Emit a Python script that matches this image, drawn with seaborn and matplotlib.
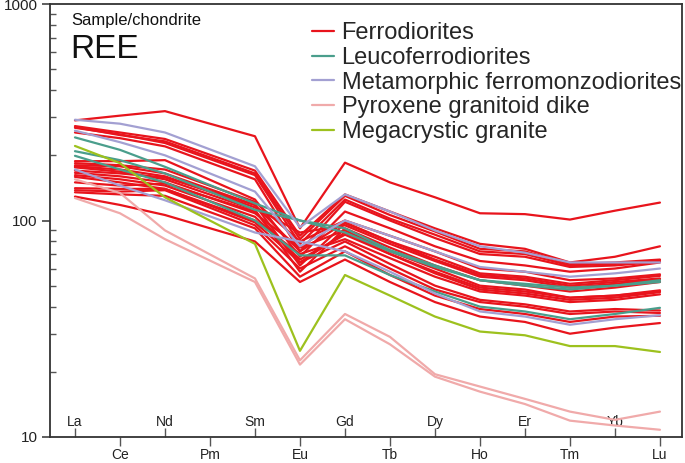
import pandas as pd
import matplotlib
matplotlib.use("Agg")
import matplotlib.pyplot as plt
import seaborn as sns
from matplotlib.ticker import FixedLocator, LogLocator, NullFormatter

# x axis order on the diagram (Pm has no analyses, lines jump over it)
axis_elements = ['La', 'Ce', 'Nd', 'Pm', 'Sm', 'Eu', 'Gd', 'Tb', 'Dy', 'Ho', 'Er', 'Tm', 'Yb', 'Lu']
data_elements = ['La', 'Ce', 'Nd', 'Sm', 'Eu', 'Gd', 'Tb', 'Dy', 'Ho', 'Er', 'Tm', 'Yb', 'Lu']

# chondrite-normalised values
ferrodiorites = [
    [290, 305, 320, 245, 92, 185, 150, 128, 108, 107, 101, 111, 121],
    [273, 255, 238, 170, 85, 132, 110, 92, 78, 74, 64, 68, 76],
    [270, 248, 232, 165, 82, 130, 106, 89, 74, 72, 63, 64, 66],
    [268, 250, 228, 162, 78, 125, 102, 86, 72, 70, 62, 63, 65.6],
    [255, 240, 220, 155, 72, 122, 100, 83, 70, 68, 61, 62, 64.5],
    [188, 188, 190, 125, 68, 110, 92, 76, 65, 62, 58, 60, 64],
    [184, 180, 172, 122, 80, 100, 85, 72, 60, 58, 53, 54, 56.4],
    [180, 178, 165, 118, 62, 97, 80, 68, 57, 55, 51, 53, 55.5],
    [178, 172, 160, 115, 88, 95, 78, 65, 55, 53, 49, 51, 53.5],
    [176, 168, 155, 112, 58, 92, 75, 62, 53, 50, 47, 49, 52],
    [170, 165, 158, 118, 72, 98, 80, 66, 56, 54, 50, 52, 54],
    [166, 160, 150, 108, 75, 90, 72, 60, 50, 48, 44, 45, 47.6],
    [162, 155, 145, 104, 66, 86, 70, 57, 48, 46, 43, 44, 46.7],
    [159, 150, 140, 100, 70, 82, 67, 55, 47, 45, 42, 43, 45.6],
    [150, 145, 148, 110, 64, 88, 70, 58, 49, 47, 44, 45, 47],
    [141, 140, 140, 98, 64, 80, 63, 50, 43, 41, 38, 39, 38.4],
    [138, 136, 138, 95, 60, 76, 60, 48, 42, 40, 37, 38, 37.4],
    [135, 132, 130, 92, 55, 72, 56, 45, 39, 37, 34, 36, 36.3],
    [129, 118, 106, 80, 52, 66, 52, 42, 36, 34, 30, 32, 33.6],
]
leucoferrodiorites = [
    [242, 212, 177, 120, 100, 88, 72, 61, 53, 51, 49, 50, 52],
    [209, 190, 165, 112, 100, 92, 73, 62, 53, 50, 48, 50, 53],
    [199, 172, 150, 100, 69, 69, 56, 47, 40, 38, 35, 37, 39.5],
]
metamorphic = [
    [292, 280, 255, 178, 93, 132, 110, 90, 76, 71, 64, 64, 64],
    [260, 230, 200, 136, 76, 100, 85, 72, 61, 58, 55, 57, 60],
    [172, 145, 124, 88, 80, 72, 58, 46, 38, 36, 33, 35, 36.5],
]
pyroxene_dike = [
    [155, 134, 90, 54, 22.6, 37, 29, 19.5, 17.1, 15, 13.1, 12, 13.1],
    [127, 108, 82, 52, 21.6, 35, 26.8, 19, 16.2, 14.2, 11.9, 11.3, 10.8],
]
megacrystic = [
    [221, 184, 128, 78, 25, 56, 45, 36, 30.7, 29.5, 26.3, 26.3, 24.7],
]

groups = ['Ferrodiorites', 'Leucoferrodiorites', 'Metamorphic ferromonzodiorites',
          'Pyroxene granitoid dike', 'Megacrystic granite']
colors = ['#e8141c', '#4a9e8c', '#a3a0d2', '#f0aaaa', '#9dc11e']

rows = []
for name, samples in zip(groups, [ferrodiorites, leucoferrodiorites, metamorphic,
                                  pyroxene_dike, megacrystic]):
    for i, vals in enumerate(samples):
        for el, v in zip(data_elements, vals):
            rows.append({'group': name, 'sample': f'{name}_{i}',
                         'pos': axis_elements.index(el), 'value': v})
df = pd.DataFrame(rows)

sns.set_style('ticks')
plt.rcParams['font.family'] = ['Liberation Sans', 'DejaVu Sans']

fig = plt.figure(figsize=(6.85, 4.63), dpi=100)
ax = fig.add_axes([50 / 685, 1 - 437 / 463, 632 / 685, 433 / 463])

sns.lineplot(data=df, x='pos', y='value', hue='group', units='sample', estimator=None,
             hue_order=groups, palette=dict(zip(groups, colors)), sort=False,
             linewidth=1.6, ax=ax)

ax.set_yscale('log')
ax.set_ylim(10, 1000)
ax.set_xlim(-0.555, 13.49)
ax.set_xlabel('')
ax.set_ylabel('')

for s in ax.spines.values():
    s.set_visible(True)
    s.set_color('#333333')
    s.set_linewidth(1.3)

# y ticks: major outside, minor inside
ax.yaxis.set_major_locator(FixedLocator([10, 100, 1000]))
ax.set_yticklabels(['10', '100', '1000'])
ax.yaxis.set_minor_locator(LogLocator(base=10, subs=range(2, 10)))
ax.yaxis.set_minor_formatter(NullFormatter())
ax.tick_params(axis='y', which='major', left=True, direction='out', length=6, width=1.1,
               color='#333333', labelsize=11, labelcolor='#222222', pad=3)
ax.tick_params(axis='y', which='minor', left=True, direction='in', length=4.5, width=1.0,
               color='#555555')

# x ticks: alternate elements inside (labels above axis) and outside
odd_pos = [i for i in range(len(axis_elements)) if i % 2 == 1]
even_pos = [i for i in range(len(axis_elements)) if i % 2 == 0]
ax.set_xticks(odd_pos)
ax.set_xticklabels([axis_elements[i] for i in odd_pos])
ax.set_xticks(even_pos, minor=True)
ax.set_xticklabels([axis_elements[i] for i in even_pos], minor=True)
ax.tick_params(axis='x', which='major', bottom=True, direction='out', length=6.5, width=1.0,
               color='#555555', labelsize=10, labelcolor='#222222', pad=1.2)
ax.tick_params(axis='x', which='minor', bottom=True, direction='in', length=6.5, width=1.0,
               color='#555555', labelsize=10, labelcolor='#222222', pad=-15.5)

ax.text(21 / 632, 1 - 17 / 433, 'Sample/chondrite', transform=ax.transAxes,
        fontsize=12, va='center', ha='left', color='#111111')
ax.text(20 / 632, 1 - 45 / 433, 'REE', transform=ax.transAxes,
        fontsize=24, va='center', ha='left', color='#111111')

handles, labels = ax.get_legend_handles_labels()
ax.legend(handles, labels, loc='upper left', bbox_to_anchor=(312 / 685, 1 - 22 / 463),
          bbox_transform=fig.transFigure, frameon=False, fontsize=17,
          handlelength=0.95, handletextpad=0.3, labelspacing=0.12,
          borderpad=0, borderaxespad=0)

fig.savefig('out.png', dpi=100)
